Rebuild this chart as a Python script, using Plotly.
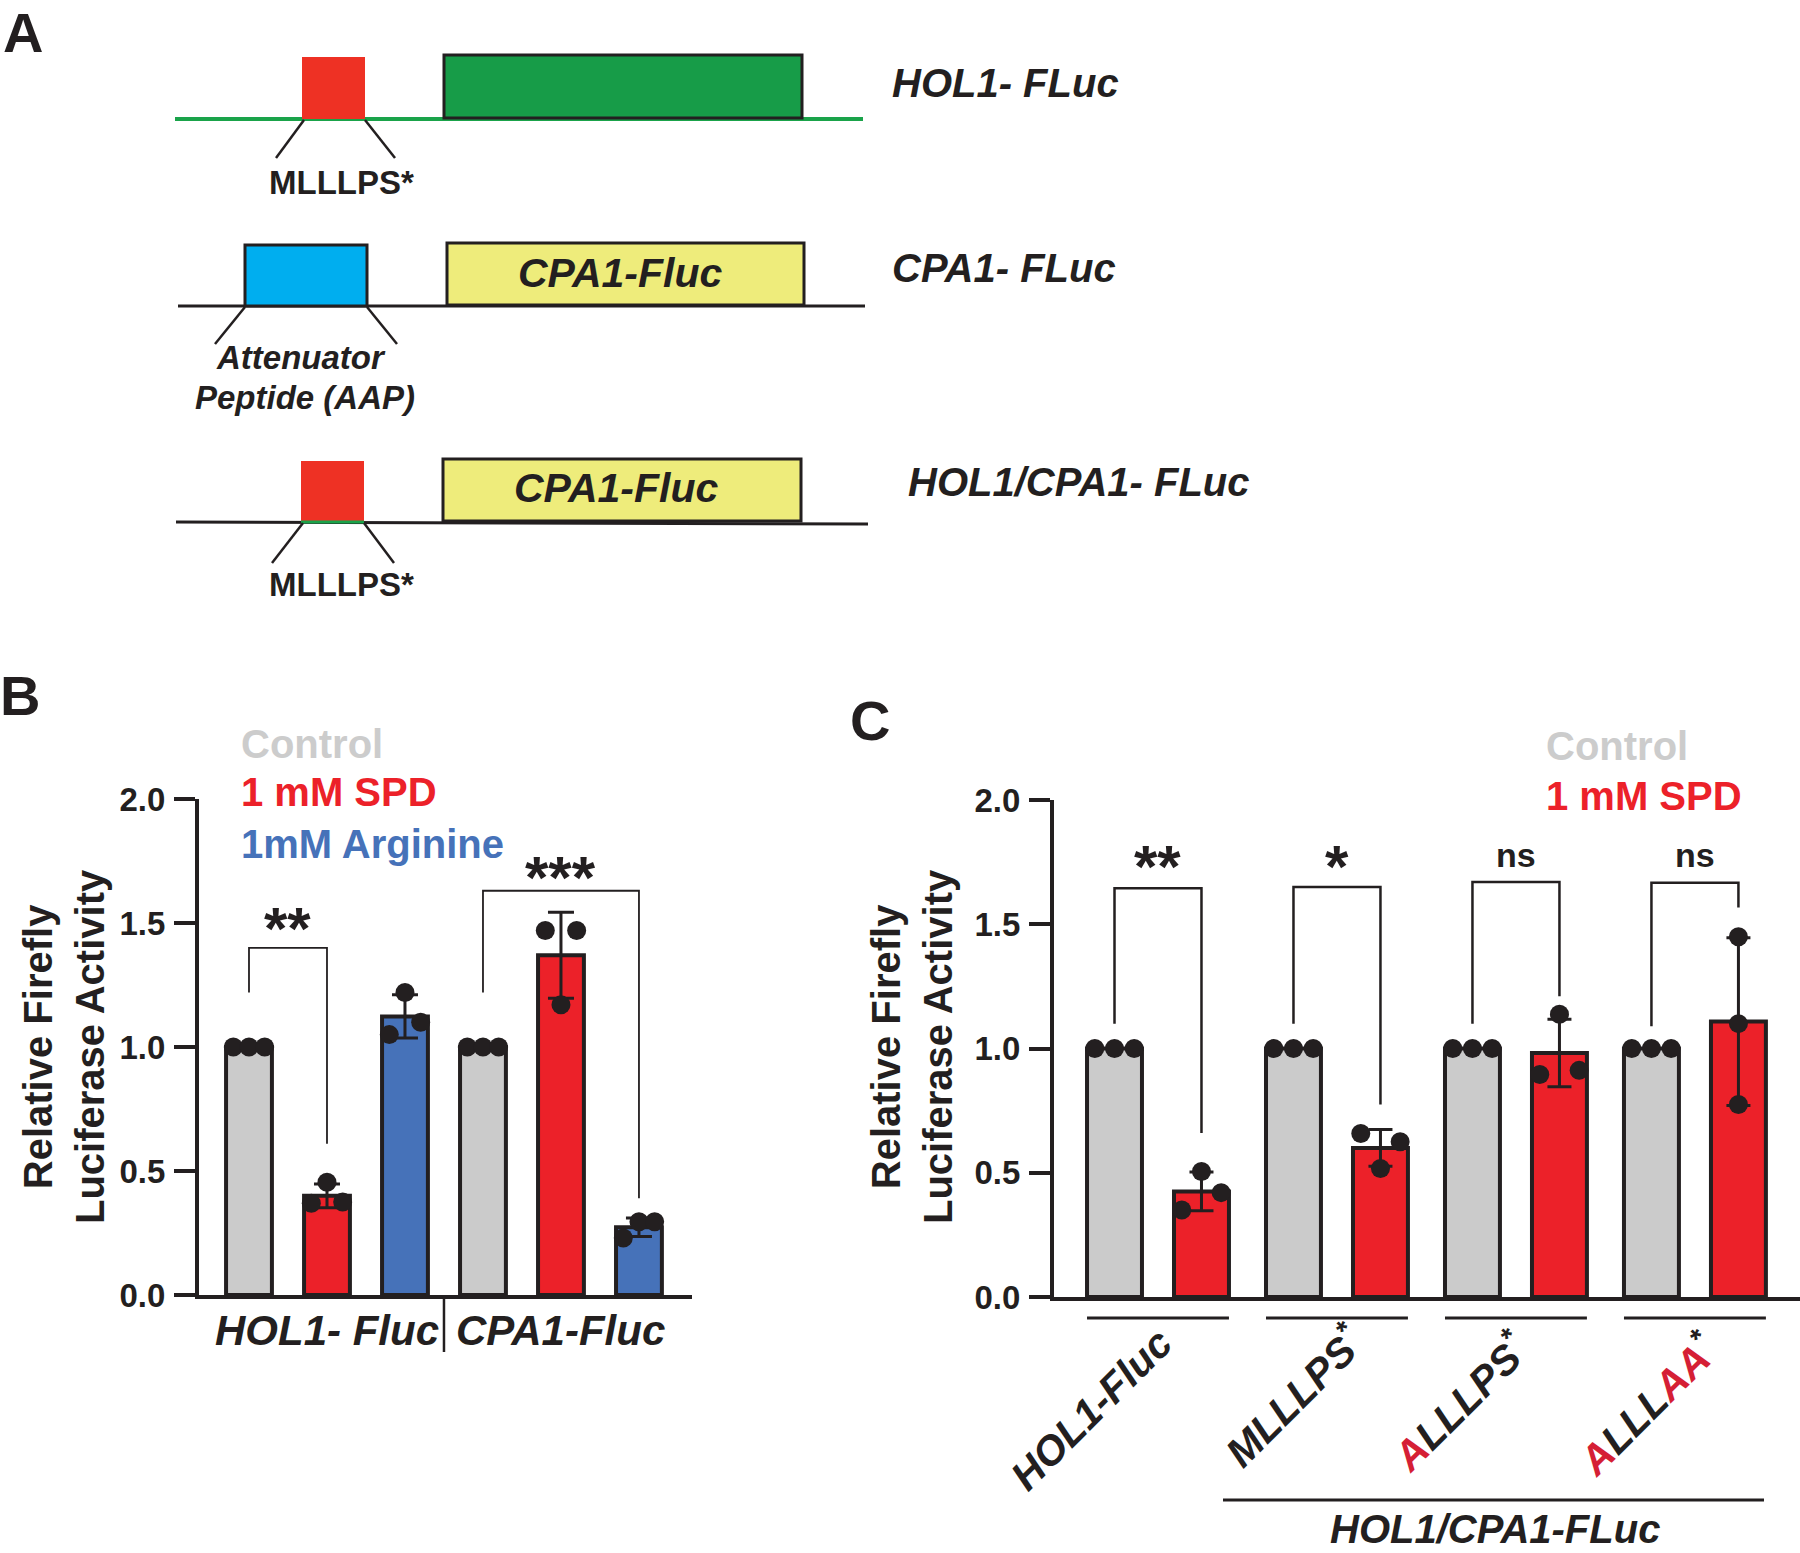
import numpy as np
import plotly.graph_objects as go

W, H = 1800, 1553
FONT = "Arial, 'Liberation Sans', Helvetica, sans-serif"
INK = "#231f20"
GRAY = "#cbcbcb"
RED = "#ec2129"
BLUE = "#4672b9"
LEG_GRAY = "#cccccc"
MUT_RED = "#d51f35"

# ---------------- data ----------------
# Panel B : relative firefly luciferase activity (3 replicates each)
b_groups = ["HOL1- Fluc", "CPA1-Fluc"]
b_series = ["Control", "1 mM SPD", "1mM Arginine"]
b_control = [[1.0, 1.0, 1.0], [1.0, 1.0, 1.0]]
b_spd = [[0.37, 0.455, 0.375], [1.47, 1.17, 1.47]]
b_arginine = [[1.05, 1.22, 1.10], [0.23, 0.295, 0.295]]
b_sig = ["**", "***"]

# Panel C
c_constructs = ["HOL1-Fluc", "MLLLPS*", "ALLLPS*", "ALLLAA*"]
c_mutated = [[], [], [0], [0, 4, 5]]
c_series = ["Control", "1 mM SPD"]
c_control = [[1.0, 1.0, 1.0], [1.0, 1.0, 1.0], [1.0, 1.0, 1.0], [1.0, 1.0, 1.0]]
c_spd = [[0.35, 0.505, 0.42], [0.658, 0.517, 0.625], [0.895, 1.138, 0.912], [1.45, 1.10, 0.775]]
c_sig = ["**", "*", "ns", "ns"]
c_group_label = "HOL1/CPA1-FLuc"

y_ticks = [0.0, 0.5, 1.0, 1.5, 2.0]
y_ticktext = ["0.0", "0.5", "1.0", "1.5", "2.0"]

# ---------------- helpers ----------------
def PX(x):
    return x / W

def PY(y):
    return 1 - y / H

shapes = []
annotations = []

def pline(x0, y0, x1, y1, color=INK, width=3):
    shapes.append(dict(type="line", xref="paper", yref="paper", x0=PX(x0), y0=PY(y0),
                       x1=PX(x1), y1=PY(y1), line=dict(color=color, width=width)))

def prect(x0, y0, x1, y1, fill, lc=INK, lw=3):
    shapes.append(dict(type="rect", xref="paper", yref="paper", x0=PX(x0), y0=PY(y0),
                       x1=PX(x1), y1=PY(y1), fillcolor=fill,
                       line=dict(color=lc, width=lw)))

def ptext(x, y, text, size, color=INK, xanchor="center", bold=True, italic=False, angle=0):
    t = text
    if italic:
        t = "<i>" + t + "</i>"
    if bold:
        t = "<b>" + t + "</b>"
    annotations.append(dict(xref="paper", yref="paper", x=PX(x), y=PY(y), text=t,
                            showarrow=False, xanchor=xanchor, yanchor="middle",
                            textangle=angle, borderpad=0, borderwidth=0,
                            font=dict(family=FONT, size=size, color=color)))

def stats(vals):
    a = np.asarray(vals, dtype=float)
    return float(a.mean()), float(a.std(ddof=1))

fig = go.Figure()

# ---------------- Panel A : constructs diagram ----------------
GREEN_LINE = "#1aa34a"
GREEN_BOX = "#179c48"
RED_BOX = "#ee3124"
BLUE_BOX = "#00aeef"
YELLOW_BOX = "#eeec7b"

# row 1
pline(175, 119, 863, 119, GREEN_LINE, 4)
prect(302, 57, 365, 119, RED_BOX, RED_BOX, 0)
prect(444, 55, 802, 118, GREEN_BOX, INK, 3)
pline(304, 120, 276, 158, INK, 2.5)
pline(365, 120, 395, 158, INK, 2.5)
ptext(341, 182, "MLLLPS*", 33)
ptext(892, 83, "HOL1- FLuc", 40, xanchor="left", italic=True)

# row 2
pline(178, 306, 865, 306, INK, 3)
prect(245, 245, 367, 306, BLUE_BOX, INK, 3)
prect(447, 243, 804, 305, YELLOW_BOX, INK, 3)
ptext(620, 273, "CPA1-Fluc", 41, italic=True)
pline(245, 307, 215, 344, INK, 2.5)
pline(367, 307, 397, 344, INK, 2.5)
ptext(301, 357, "Attenuator", 33, italic=True)
ptext(305, 397, "Peptide (AAP)", 33, italic=True)
ptext(892, 268, "CPA1- FLuc", 40, xanchor="left", italic=True)

# row 3
pline(176, 522, 868, 524, INK, 3)
prect(301, 461, 364, 521, RED_BOX, RED_BOX, 0)
pline(301, 522, 364, 522, GREEN_LINE, 3)
prect(443, 459, 801, 521, YELLOW_BOX, INK, 3)
ptext(616, 488, "CPA1-Fluc", 41, italic=True)
pline(303, 523, 272, 563, INK, 2.5)
pline(364, 523, 394, 563, INK, 2.5)
ptext(341, 584, "MLLLPS*", 33)
ptext(908, 482, "HOL1/CPA1- FLuc", 40, xanchor="left", italic=True)

# panel letters
ptext(3, 32, "A", 56, xanchor="left")
ptext(0, 695, "B", 56, xanchor="left")
ptext(850, 720, "C", 56, xanchor="left")

# ---------------- Panel B ----------------
BW_B = 0.196
STEP_B = 1 / 3
JIT_B = 0.067
b_data = [b_control, b_spd, b_arginine]
b_colors = [GRAY, RED, BLUE]

def xb(g, j):
    return g + (j - 1) * STEP_B

for j, series in enumerate(b_data):
    xs = [xb(g, j) for g in range(len(b_groups))]
    ms = [stats(v)[0] for v in series]
    sds = [stats(v)[1] for v in series]
    fig.add_trace(go.Bar(x=xs, y=ms, width=BW_B, name=b_series[j],
                         marker=dict(color=b_colors[j], line=dict(color=INK, width=4)),
                         error_y=dict(type="data", array=sds, visible=bool(max(sds) > 1e-9),
                                      color=INK, thickness=3, width=13),
                         xaxis="x", yaxis="y", showlegend=False))
for j, series in enumerate(b_data):
    for g, vals in enumerate(series):
        xs = [xb(g, j) + k * JIT_B for k in (-1, 0, 1)]
        fig.add_trace(go.Scatter(x=xs, y=vals, mode="markers",
                                 marker=dict(color=INK, size=19),
                                 xaxis="x", yaxis="y", showlegend=False))

# brackets B: (group, target series, top, left-leg bottom, right-leg bottom, text y)
b_brackets = [(0, 1, 1.40, 1.22, 0.61, 1.478), (1, 2, 1.63, 1.22, 0.39, 1.683)]
for (g, j, top, lb, rb, ty), lab in zip(b_brackets, b_sig):
    x0, x1 = xb(g, 0), xb(g, j)
    path = f"M {x0},{lb} L {x0},{top} L {x1},{top} L {x1},{rb}"
    shapes.append(dict(type="path", xref="x", yref="y", path=path,
                       line=dict(color=INK, width=1.8)))
    annotations.append(dict(xref="x", yref="y", x=(x0 + x1) / 2, y=ty, text=f"<b>{lab}</b>",
                            showarrow=False, xanchor="center", yanchor="middle",
                            font=dict(family=FONT, size=60, color=INK)))

# group labels B
for g, lab in enumerate(b_groups):
    annotations.append(dict(xref="x", yref="paper", x=g, y=PY(1330), text=f"<b><i>{lab}</i></b>",
                            showarrow=False, xanchor="center", yanchor="middle",
                            font=dict(family=FONT, size=42, color=INK)))
shapes.append(dict(type="line", xref="x", yref="paper", x0=0.5, x1=0.5, y0=PY(1296), y1=PY(1352),
                   line=dict(color=INK, width=2.5)))

# legend B
for lab, col, yy in zip(b_series, [LEG_GRAY, RED, BLUE], [744, 792, 844]):
    ptext(241, yy, lab, 40, color=col, xanchor="left")

# y title B
annotations.append(dict(xref="paper", yref="paper", x=PX(64), y=PY(1047),
                        text="<b>Relative Firefly<br>Luciferase Activity</b>", showarrow=False,
                        textangle=-90, xanchor="center", yanchor="middle",
                        font=dict(family=FONT, size=40, color=INK)))

# ---------------- Panel C ----------------
BW_C = 0.307
D_C = 0.243
JIT_C = 0.11
c_jitter = [(-1, 0, 1), (-1, 0, 1), (-1, 0, 1), (0, 0, 0)]
c_data = [c_control, c_spd]
c_colors = [GRAY, RED]

def xc(i, j):
    return i + (2 * j - 1) * D_C

for j, series in enumerate(c_data):
    xs = [xc(i, j) for i in range(len(c_constructs))]
    ms = [stats(v)[0] for v in series]
    sds = [stats(v)[1] for v in series]
    fig.add_trace(go.Bar(x=xs, y=ms, width=BW_C, name=c_series[j],
                         marker=dict(color=c_colors[j], line=dict(color=INK, width=4)),
                         error_y=dict(type="data", array=sds, visible=bool(max(sds) > 1e-9),
                                      color=INK, thickness=3, width=12),
                         xaxis="x2", yaxis="y2", showlegend=False))
for j, series in enumerate(c_data):
    for i, vals in enumerate(series):
        jit = (-1, 0, 1) if j == 0 else c_jitter[i]
        xs = [xc(i, j) + k * JIT_C for k in jit]
        fig.add_trace(go.Scatter(x=xs, y=vals, mode="markers",
                                 marker=dict(color=INK, size=19),
                                 xaxis="x2", yaxis="y2", showlegend=False))

# brackets C: (top, left-leg bottom, right-leg bottom)
c_brackets = [(1.645, 1.10, 0.66), (1.65, 1.10, 0.775), (1.67, 1.10, 1.21), (1.667, 1.09, 1.567)]
for i, ((top, lb, rb), lab) in enumerate(zip(c_brackets, c_sig)):
    x0, x1 = xc(i, 0), xc(i, 1)
    path = f"M {x0},{lb} L {x0},{top} L {x1},{top} L {x1},{rb}"
    shapes.append(dict(type="path", xref="x2", yref="y2", path=path,
                       line=dict(color=INK, width=2.5)))
    is_star = "*" in lab
    annotations.append(dict(xref="x2", yref="y2", x=(x0 + x1) / 2,
                            y=1.734 if is_star else 1.78, text=f"<b>{lab}</b>",
                            showarrow=False, xanchor="center", yanchor="middle",
                            font=dict(family=FONT, size=60 if is_star else 34, color=INK)))
    # underline under each pair
    half = D_C + BW_C / 2
    shapes.append(dict(type="line", xref="x2", yref="paper", x0=i - half, x1=i + half,
                       y0=PY(1318), y1=PY(1318), line=dict(color=INK, width=3)))

# rotated construct labels
def rich_label(name, muts):
    out = ""
    for k, ch in enumerate(name):
        if ch == "*":
            out += "<sup>*</sup>"
        elif k in muts:
            out += f"<span style='color:{MUT_RED}'>{ch}</span>"
        else:
            out += ch
    return "<b><i>" + out + "</i></b>"

label_centers = [(1091, 1410), (1293, 1395), (1459, 1401), (1647, 1403)]
for (cx, cy), name, muts in zip(label_centers, c_constructs, c_mutated):
    annotations.append(dict(xref="paper", yref="paper", x=PX(cx), y=PY(cy),
                            text=rich_label(name, muts), showarrow=False, textangle=-45,
                            xanchor="center", yanchor="middle",
                            font=dict(family=FONT, size=41, color=INK)))

pline(1223, 1500, 1764, 1500, INK, 3)
ptext(1495, 1529, c_group_label, 40, italic=True)

# legend C
for lab, col, yy in zip(c_series, [LEG_GRAY, RED], [746, 796]):
    ptext(1546, yy, lab, 40, color=col, xanchor="left")

annotations.append(dict(xref="paper", yref="paper", x=PX(912), y=PY(1047),
                        text="<b>Relative Firefly<br>Luciferase Activity</b>", showarrow=False,
                        textangle=-90, xanchor="center", yanchor="middle",
                        font=dict(family=FONT, size=40, color=INK)))

# ---------------- axes ----------------
yaxis_common = dict(range=[0, 2], tickvals=y_ticks, ticktext=y_ticktext, showline=True,
                    linewidth=4, linecolor=INK, ticks="outside", ticklen=21, tickwidth=4,
                    tickcolor=INK, showgrid=False, zeroline=False, ticklabelstandoff=2,
                    automargin=False,
                    tickfont=dict(family=FONT, size=33, color=INK, weight="bold"))
xaxis_common = dict(showline=True, linewidth=4, linecolor=INK, ticks="", showticklabels=False,
                    showgrid=False, zeroline=False, automargin=False)

fig.update_layout(
    template="none",
    width=W, height=H, autosize=False,
    margin=dict(l=0, r=0, t=0, b=0, pad=0),
    paper_bgcolor="white", plot_bgcolor="rgba(0,0,0,0)",
    barmode="overlay", showlegend=False,
    font=dict(family=FONT, color=INK),
    xaxis=dict(domain=[PX(199), PX(692)], range=[-0.547, 1.56], anchor="y", **xaxis_common),
    yaxis=dict(domain=[PY(1295), PY(799)], anchor="x", **yaxis_common),
    xaxis2=dict(domain=[PX(1054), 1.0], range=[-0.581, 3.587], anchor="y2", **xaxis_common),
    yaxis2=dict(domain=[PY(1297), PY(800)], anchor="x2", **yaxis_common),
    shapes=shapes, annotations=annotations,
)

fig.write_html("out.html", config={"displayModeBar": False},
               post_script="document.body.style.margin='0px';")
